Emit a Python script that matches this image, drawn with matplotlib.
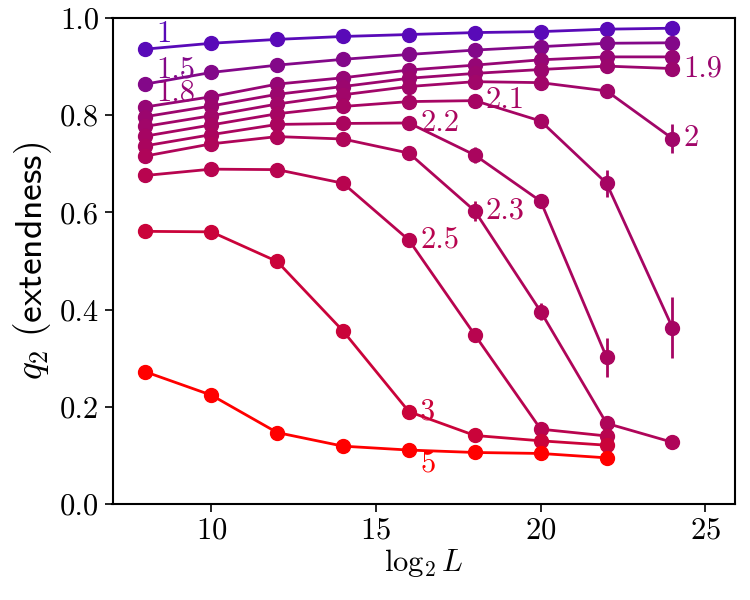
import numpy as np
import matplotlib
matplotlib.use("Agg")
import matplotlib.pyplot as plt

plt.rcParams['font.family'] = 'serif'
plt.rcParams['font.serif'] = ['cmr10']
plt.rcParams['mathtext.fontset'] = 'cm'
plt.rcParams['axes.unicode_minus'] = False
plt.rcParams['axes.formatter.use_mathtext'] = True

# ---- data ----
log2L = [8, 10, 12, 14, 16, 18, 20, 22, 24]
alphas = [1, 1.5, 1.8, 1.9, 2, 2.1, 2.2, 2.3, 2.5, 3, 5]
labels = ["1", "1.5", "1.8", "1.9", "2", "2.1", "2.2", "2.3", "2.5", "3", "5"]

q_1 = [0.936, 0.948, 0.956, 0.962, 0.966, 0.970, 0.972, 0.977, 0.979]
q_15 = [0.864, 0.888, 0.903, 0.915, 0.925, 0.934, 0.941, 0.948, 0.949]
q_18 = [0.817, 0.838, 0.864, 0.877, 0.893, 0.903, 0.914, 0.920, 0.920]
q_19 = [0.797, 0.819, 0.843, 0.859, 0.876, 0.886, 0.894, 0.901, 0.896]
q_2 = [0.777, 0.799, 0.823, 0.842, 0.859, 0.869, 0.867, 0.850, 0.752]
q_21 = [0.757, 0.780, 0.803, 0.818, 0.828, 0.830, 0.788, 0.660, 0.363]
q_22 = [0.737, 0.760, 0.781, 0.783, 0.784, 0.718, 0.623, 0.302]
q_23 = [0.716, 0.741, 0.756, 0.751, 0.722, 0.603, 0.396, 0.166, 0.127]
q_25 = [0.676, 0.689, 0.688, 0.660, 0.543, 0.348, 0.154, 0.140]
q_3 = [0.561, 0.560, 0.499, 0.356, 0.190, 0.141, 0.130, 0.121]
q_5 = [0.272, 0.224, 0.147, 0.119, 0.111, 0.106, 0.104, 0.095]

e_1 = [0, 0, 0, 0, 0, 0, 0, 0, 0]
e_15 = [0, 0, 0, 0, 0, 0, 0, 0, 0]
e_18 = [0, 0, 0, 0, 0, 0, 0, 0, 0]
e_19 = [0, 0, 0, 0, 0, 0, 0, 0, 0]
e_2 = [0, 0, 0, 0, 0, 0, 0, 0, 0.030]
e_21 = [0, 0, 0, 0, 0, 0, 0.004, 0.028, 0.063]
e_22 = [0, 0, 0, 0, 0, 0.016, 0.005, 0.040]
e_23 = [0, 0, 0, 0, 0, 0.021, 0.017, 0.004, 0]
e_25 = [0, 0, 0, 0, 0, 0, 0, 0]
e_3 = [0, 0, 0, 0, 0, 0, 0, 0]
e_5 = [0, 0, 0, 0, 0, 0, 0, 0]

series = [q_1, q_15, q_18, q_19, q_2, q_21, q_22, q_23, q_25, q_3, q_5]
errors = [e_1, e_15, e_18, e_19, e_2, e_21, e_22, e_23, e_25, e_3, e_5]

# label anchor: (point index, placement)
label_idx = [0, 0, 0, 8, 8, 5, 4, 5, 4, 4, 4]
label_pos = ["up", "up", "up", "right", "right", "right", "right", "right", "right", "right", "down"]

# ---- colors ----
c0 = np.array([0.35, 0.04, 0.72])
c1 = np.array([1.0, 0.0, 0.0])
def color_for(a):
    t = np.log(a) / np.log(5)
    return tuple(c0 + (c1 - c0) * t)

fig = plt.figure(figsize=(7.5, 6), dpi=100)
ax = fig.add_axes([0.150, 0.160, 0.830, 0.810])

for a, lab, ys, es, li, lp in zip(alphas, labels, series, errors, label_idx, label_pos):
    col = color_for(a)
    xs = log2L[:len(ys)]
    ax.errorbar(xs, ys, yerr=es, color=col, lw=2.0, marker='o', ms=10,
                elinewidth=2.0, capsize=0)
    px, py = xs[li], ys[li]
    if lp == "up":
        off = (8, 10.5)
    elif lp == "down":
        off = (8, -10)
    else:
        off = (8, 0)
    ax.annotate(lab, (px, py), xytext=off, textcoords='offset points',
                ha='left', va='center', fontsize=22, color=col)

ax.set_xlim(7, 25.9)
ax.set_ylim(0, 1.0)
ax.set_xticks([10, 15, 20, 25])
ax.set_yticks([0.0, 0.2, 0.4, 0.6, 0.8, 1.0])
ax.set_yticklabels(["0.0", "0.2", "0.4", "0.6", "0.8", "1.0"])
ax.tick_params(labelsize=22, direction='out', length=6, width=1.2)
for s in ax.spines.values():
    s.set_linewidth(1.5)
ax.set_xlabel(r'$\log_2 L$', fontsize=22, labelpad=2)
ax.set_ylabel(r'$q_2\ \mathsf{(extendness)}$', fontsize=27, labelpad=4)

fig.savefig('out.png', dpi=100)
